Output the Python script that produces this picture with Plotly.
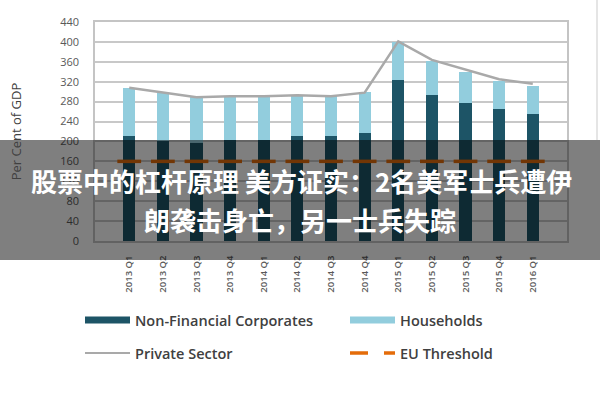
import plotly.graph_objects as go

categories = ["2013 Q1", "2013 Q2", "2013 Q3", "2013 Q4", "2014 Q1", "2014 Q2", "2014 Q3",
              "2014 Q4", "2015 Q1", "2015 Q2", "2015 Q3", "2015 Q4", "2016 Q1"]
non_financial = [210, 201, 197, 202, 202, 210, 210, 218, 324, 294, 278, 266, 256]
households = [98, 96, 92, 88, 88, 83, 81, 82, 76, 68, 62, 56, 56]
private_sector = [308, 298, 289, 291, 291, 293, 291, 298, 401, 364, 344, 325, 316]
eu_threshold = [160, 160, 160, 160, 160, 160, 160, 160, 160, 160, 160, 160, 160]
y_ticks = [0, 40, 80, 120, 160, 200, 240, 280, 320, 360, 400, 440]

headline_1 = "股票中的杠杆原理 美方证实：2名美军士兵遭伊"
headline_2 = "朗袭击身亡，另一士兵失踪"

W, H = 600, 400
ML, MR, MT, MB = 95, 33, 22, 159
PW, PH = W - ML - MR, H - MT - MB


def px_x(px):
    return (px - ML) / PW


def px_y(py):
    return (H - MB - py) / PH


DARK = "#1d5466"
LIGHT = "#92cddd"
GREY = "#a9a9a9"
ORANGE = "#e46c0a"
TXT = "#404040"
FONT = "Open Sans"

fig = go.Figure()
fig.add_trace(go.Bar(x=categories, y=non_financial, name="Non-Financial Corporates",
                     marker=dict(color=DARK, line_width=0), showlegend=False))
fig.add_trace(go.Bar(x=categories, y=households, name="Households",
                     marker=dict(color=LIGHT, line_width=0), showlegend=False))
fig.add_trace(go.Scatter(x=categories, y=private_sector, name="Private Sector", mode="lines",
                         line=dict(color=GREY, width=2.5), showlegend=False))
fig.add_trace(go.Scatter(x=categories, y=eu_threshold, name="EU Threshold", mode="markers",
                         showlegend=False,
                         marker=dict(symbol="line-ew", size=17,
                                     line=dict(color=ORANGE, width=3.5))))

# legend entries (2 x 2 layout, wide swatches as in the reference)
fig.add_trace(go.Scatter(x=[None], y=[None], name="Non-Financial Corporates", mode="lines",
                         line=dict(color=DARK, width=7), legend="legend"))
fig.add_trace(go.Scatter(x=[None], y=[None], name="Households", mode="lines",
                         line=dict(color=LIGHT, width=7), legend="legend3"))
fig.add_trace(go.Scatter(x=[None], y=[None], name="Private Sector", mode="lines",
                         line=dict(color=GREY, width=2), legend="legend2"))
fig.add_trace(go.Scatter(x=[None], y=[None], name="EU Threshold", mode="lines",
                         line=dict(color=ORANGE, width=3.5, dash="18px,16px"), legend="legend4"))

leg_common = dict(orientation="h", xanchor="left", yanchor="middle", itemwidth=45,
                  font=dict(size=14.5, color=TXT, weight=600), bgcolor="rgba(0,0,0,0)")

fig.update_layout(
    width=W, height=H,
    margin=dict(l=ML, r=MR, t=MT, b=MB),
    paper_bgcolor="white", plot_bgcolor="white",
    barmode="stack", bargap=0.64,
    font=dict(family=FONT, color=TXT),
    legend=dict(x=px_x(80), y=px_y(320), **leg_common),
    legend2=dict(x=px_x(80), y=px_y(353), **leg_common),
    legend3=dict(x=px_x(345), y=px_y(320), **leg_common),
    legend4=dict(x=px_x(345), y=px_y(353), **leg_common),
    xaxis=dict(type="category", tickangle=-90, tickfont=dict(size=9.5, color="#595959", weight=600),
               showline=True, mirror=True, linecolor="#c4c4c4", linewidth=1.5,
               showgrid=False, ticks="", ticklabelstandoff=9),
    yaxis=dict(range=[0, 440], tickvals=y_ticks, tickfont=dict(size=11, color="#595959"),
               showgrid=True, gridcolor="#c8c8c8", gridwidth=1.5,
               showline=True, mirror=True, linecolor="#c4c4c4", linewidth=1.5,
               zeroline=False, ticks="", ticklabelstandoff=12,
               title=dict(text="Per Cent of GDP", font=dict(size=13, color=TXT), standoff=36)),
)

# semi-transparent banner
fig.add_shape(type="rect", xref="paper", yref="paper",
              x0=px_x(0), x1=px_x(600), y0=px_y(260), y1=px_y(140),
              fillcolor="rgba(0,0,0,0.5)", line_width=0, layer="above")
fig.add_shape(type="line", xref="paper", yref="paper",
              x0=px_x(597), x1=px_x(597), y0=px_y(0), y1=px_y(140),
              line=dict(color="#dcdcdc", width=1.5), layer="above")

for txt, px, py, sz in [(headline_1, 301, 180, 26), (headline_2, 300, 219, 26)]:
    fig.add_annotation(text=txt, xref="paper", yref="paper", x=px_x(px), y=px_y(py),
                       xanchor="center", yanchor="middle", showarrow=False,
                       font=dict(family="Noto Sans CJK SC", size=sz, color="white", weight="bold"))

fig.write_html("out.html")
